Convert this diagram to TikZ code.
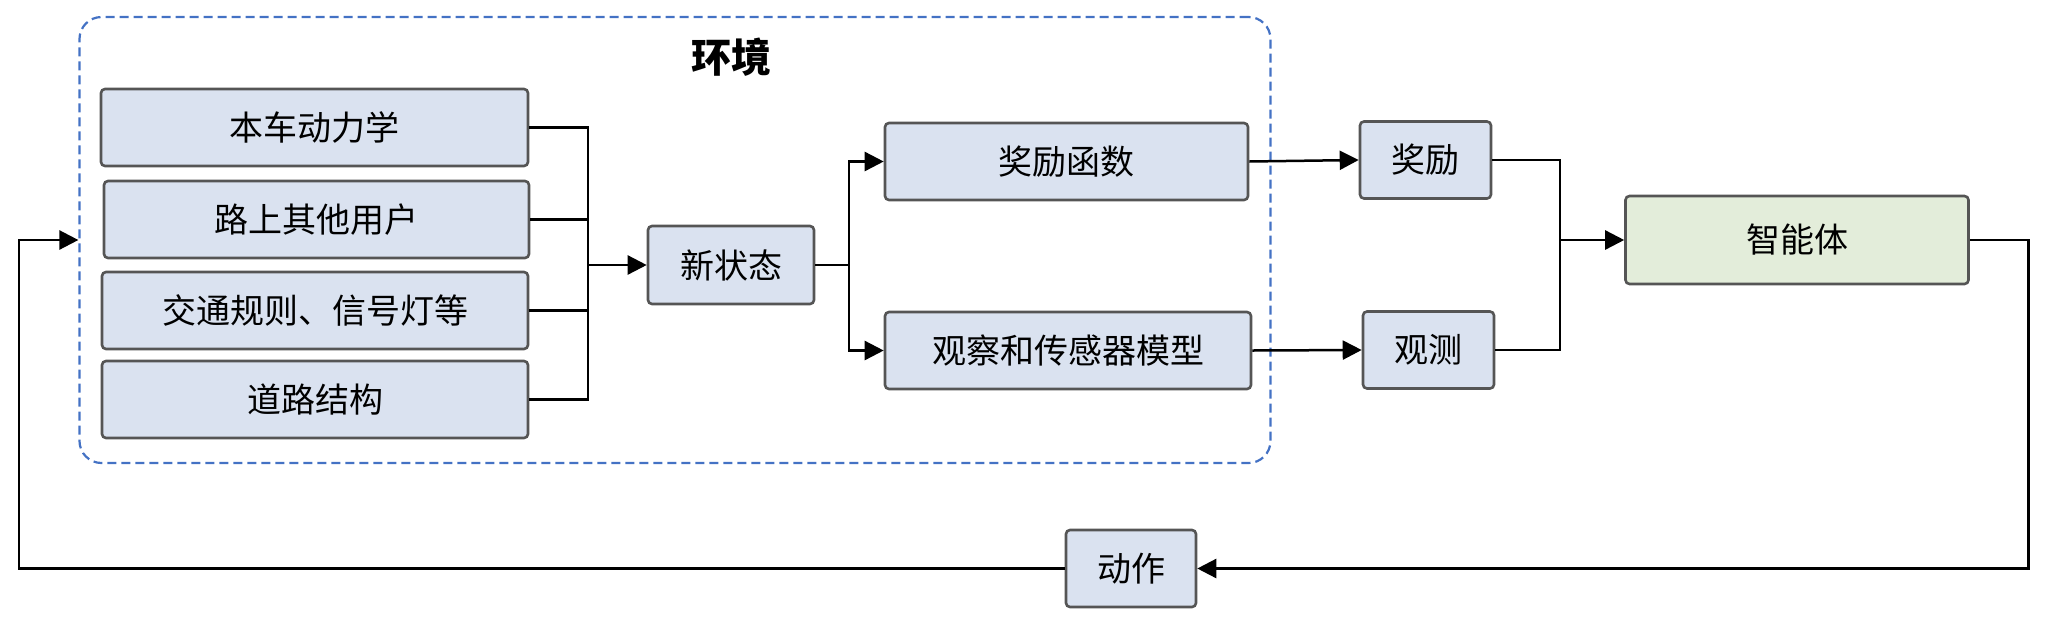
\documentclass[tikz,border=0pt]{standalone}
\usepackage{fontspec}
\setmainfont{Noto Sans CJK SC}
\usetikzlibrary{arrows.meta}
\definecolor{boxblue}{HTML}{DAE2F0}
\definecolor{boxgreen}{HTML}{E3EDDA}
\definecolor{boxline}{HTML}{555555}
\definecolor{envline}{HTML}{4472C4}
\tikzset{
  box/.style={draw=boxline, line width=2.6pt, rounded corners=4pt, fill=boxblue,
    inner sep=0pt, font=\fontsize{34}{40}\selectfont},
  agentbox/.style={box, fill=boxgreen},
  envbox/.style={draw=envline, line width=2.2pt, dash pattern=on 9pt off 5pt,
    rounded corners=22pt, inner sep=0pt},
  conn/.style={line width=2.5pt, black},
  arr/.style={conn, -{Triangle[length=19pt, width=19pt]}}
}
\begin{document}
\begin{tikzpicture}[x=1pt, y=-1pt]
\useasboundingbox (0,0) rectangle (2054,630);
% environment container
\node[envbox, minimum width=1191pt, minimum height=446pt] (env) at (675,240) {};
\node[font=\fontsize{40}{44}\selectfont\bfseries] (title) at (731,57) {环境};
% left boxes
\node[box, minimum width=427pt, minimum height=77pt] (b1) at (314.5,127.5) {本车动力学};
\node[box, minimum width=425pt, minimum height=77pt] (b2) at (316.5,219.5) {路上其他用户};
\node[box, minimum width=426pt, minimum height=77pt] (b3) at (315,310.5) {交通规则、信号灯等};
\node[box, minimum width=426pt, minimum height=77pt] (b4) at (315,399.5) {道路结构};
% new state
\node[box, minimum width=166pt, minimum height=78pt] (ns) at (731,265) {新状态};
% reward function & observation model
\node[box, minimum width=363pt, minimum height=77pt] (rf) at (1066.5,161.5) {奖励函数};
\node[box, minimum width=366pt, minimum height=77pt] (ob) at (1068,350.5) {观察和传感器模型};
% reward & observation
\node[box, minimum width=131pt, minimum height=77pt] (rw) at (1425.5,160) {奖励};
\node[box, minimum width=131pt, minimum height=77pt] (om) at (1428.5,350) {观测};
% agent
\node[agentbox, minimum width=343pt, minimum height=88pt] (ag) at (1797,240) {智能体};
% action
\node[box, minimum width=130pt, minimum height=77pt] (act) at (1131,568.5) {动作};
% helper coordinates
\coordinate (busc) at (588,265);
\coordinate (sp) at (849,265);
\coordinate (mg) at (1560,240);
\coordinate (rc) at (2028.6,568.5);
\coordinate (lc) at (19,568.5);
% connectors
\draw[conn] (b1.east) -| (busc);
\draw[conn] (b2.east) -| (busc);
\draw[conn] (b3.east) -| (busc);
\draw[conn] (b4.east) -| (busc);
\draw[arr] (busc) -- (ns.west);
\draw[arr] (ns.east) -- (sp) |- (rf.west);
\draw[arr] (sp) |- (ob.west);
\draw[arr] (rf.east) -- (rw.west);
\draw[arr] (ob.east) -- (om.west);
\draw[conn] (rw.east) -| (mg);
\draw[conn] (om.east) -| (mg);
\draw[arr] (mg) -- (ag.west);
\draw[arr] (ag.east) -| (rc) -- (act.east);
\draw[arr] (act.west) -- (lc) |- (env.west);
\end{tikzpicture}
\end{document}
